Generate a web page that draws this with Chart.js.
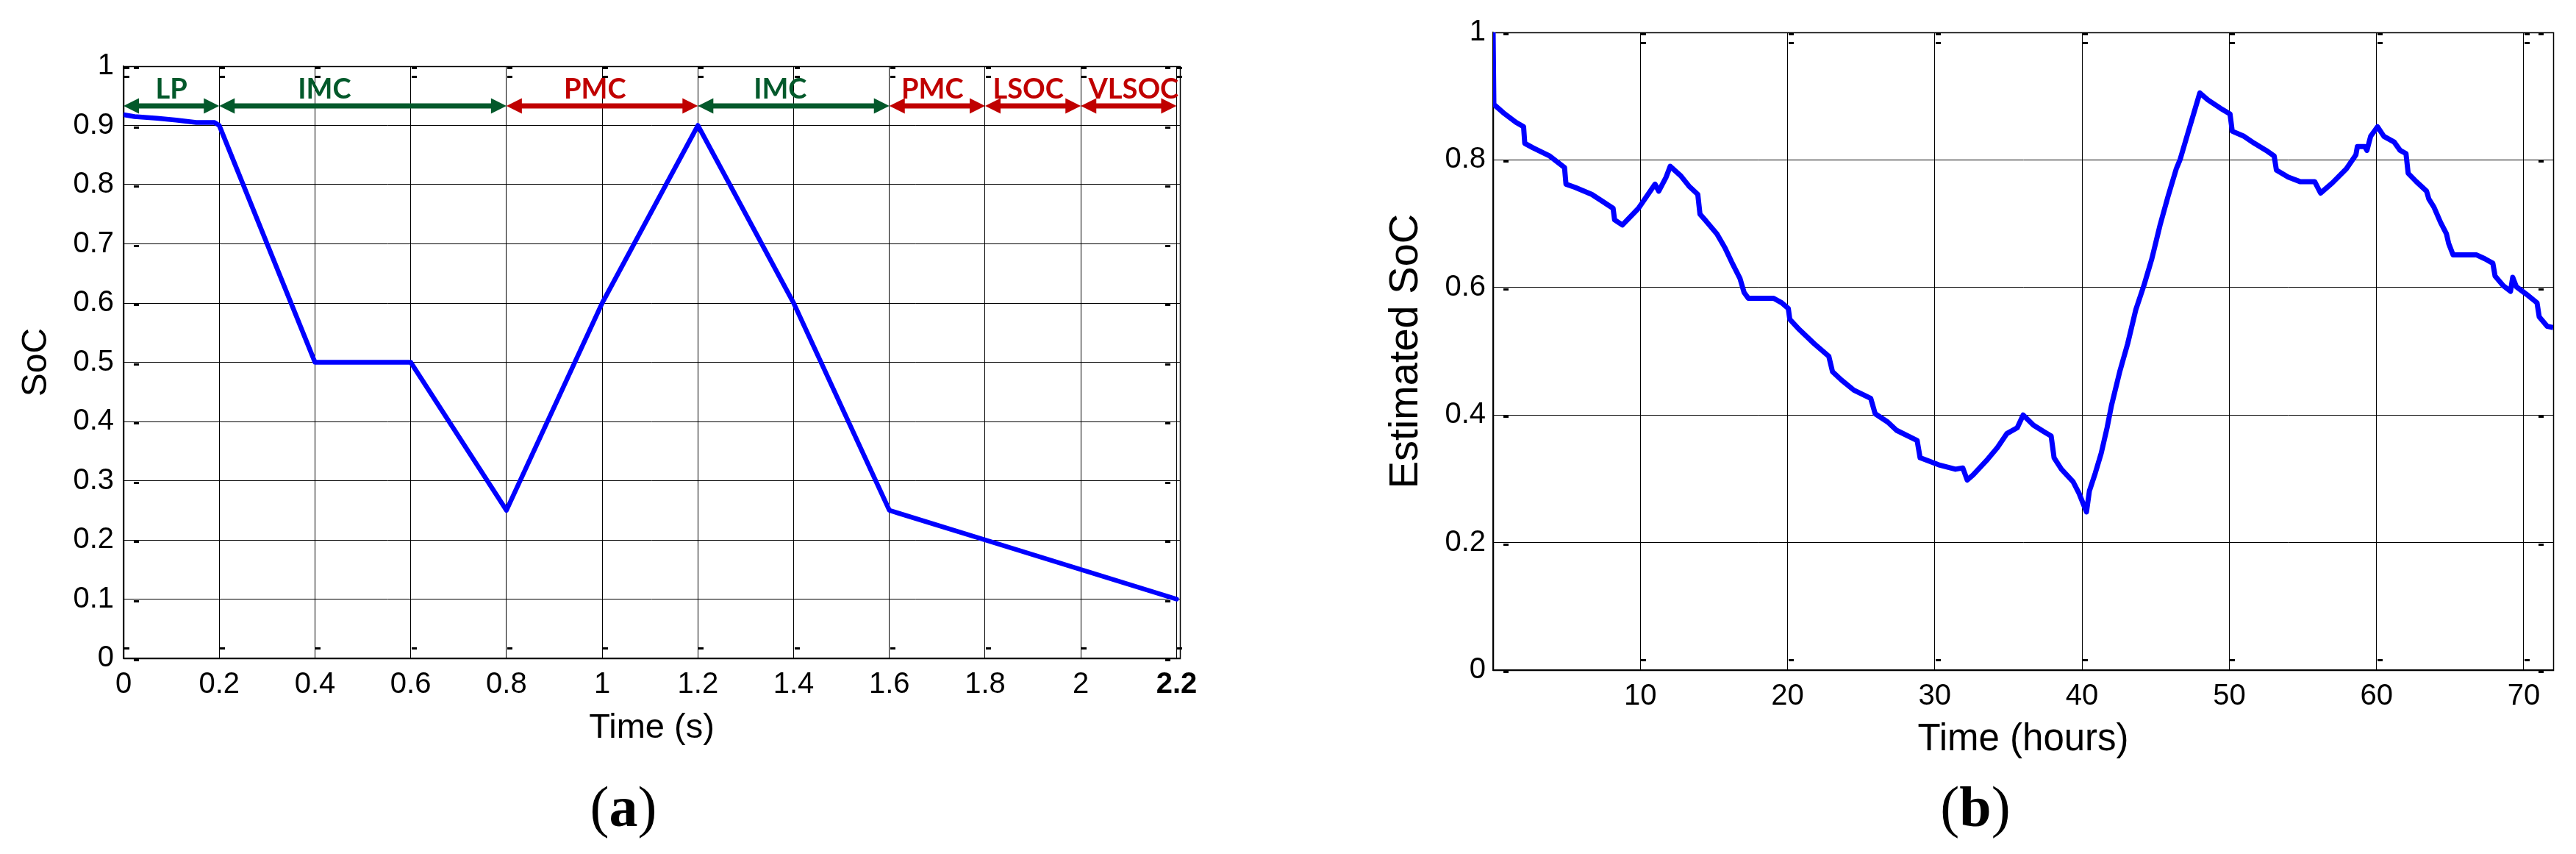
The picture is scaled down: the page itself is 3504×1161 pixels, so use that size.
<!DOCTYPE html>
<html><head><meta charset="utf-8">
<script src="https://cdn.jsdelivr.net/npm/chart.js@4.4.1/dist/chart.umd.min.js"></script>
<style>
html,body{margin:0;padding:0;background:#fff;width:3504px;height:1161px;overflow:hidden}
#wa{position:absolute;left:0;top:0;width:1750px;height:1161px}
#wb{position:absolute;left:1750px;top:0;width:1754px;height:1161px}
canvas{display:block}
</style></head><body>
<div id="wa"><canvas id="ca" width="1750" height="1161" style="width:1750px;height:1161px"></canvas></div>
<div id="wb"><canvas id="cb" width="1754" height="1161" style="width:1754px;height:1161px"></canvas></div>
<script>
// ---------- Chart (a) data ----------
const timeA = [0, 0.023, 0.07, 0.11, 0.152, 0.19, 0.2, 0.4, 0.6, 0.8, 1.0, 1.2, 1.4, 1.6, 1.62, 1.8, 2.0, 2.2];
const socA  = [0.918, 0.915, 0.912, 0.909, 0.905, 0.905, 0.9, 0.5, 0.5, 0.25, 0.6, 0.9, 0.6, 0.25, 0.245, 0.2, 0.15, 0.1];
const xTicksA = [0, 0.2, 0.4, 0.6, 0.8, 1, 1.2, 1.4, 1.6, 1.8, 2, 2.2];
const xTickLabelsA = ['0','0.2','0.4','0.6','0.8','1','1.2','1.4','1.6','1.8','2','2.2'];
const yTicksA = [0, 0.1, 0.2, 0.3, 0.4, 0.5, 0.6, 0.7, 0.8, 0.9, 1];
const yTickLabelsA = ['0','0.1','0.2','0.3','0.4','0.5','0.6','0.7','0.8','0.9','1'];

// phase annotations of chart (a)
const phaseNames   = ['LP', 'IMC', 'PMC', 'IMC', 'PMC', 'LSOC', 'VLSOC'];
const phaseStart   = [0, 0.2, 0.8, 1.2, 1.6, 1.8, 2.0];
const phaseEnd     = [0.2, 0.8, 1.2, 1.6, 1.8, 2.0, 2.2];
const phaseGroup   = ['green', 'green', 'red', 'green', 'red', 'red', 'red'];
const phaseLabelAt = [0.1, 0.42, 0.985, 1.372, 1.69, 1.89, 2.11];
const phaseArrowSoC = 0.933;
const phaseLabelSoC = 0.945;

// ---------- Chart (b) data ----------
const hoursB = [0, 0.05, 0.69, 1.55, 2.07, 2.15, 2.7, 3.85, 4.85, 4.95, 5.57, 6.7, 7.43, 8.15, 8.25, 8.78, 9.87, 11.0, 11.25, 11.75, 12.03, 12.75, 13.3, 13.9, 14.05, 14.47, 15.2, 15.75, 16.2, 16.77, 17.05, 17.34, 19.05, 19.6, 20.05, 20.15, 20.8, 21.8, 22.8, 23.05, 23.65, 24.5, 25.65, 25.95, 26.8, 27.4, 28.8, 29.0, 30.25, 31.4, 31.9, 32.2, 32.6, 33.6, 34.25, 34.9, 35.6, 36.0, 36.7, 37.4, 37.9, 38.1, 38.6, 39.4, 39.8, 40.3, 40.5, 40.9, 41.3, 41.7, 42.0, 42.56, 43.1, 43.65, 44.2, 44.74, 45.3, 45.83, 46.4, 46.65, 47.2, 47.6, 48.0, 48.55, 49.4, 50.05, 50.2, 51.0, 51.7, 52.5, 53.05, 53.2, 54.0, 54.8, 55.8, 56.2, 57.0, 57.95, 58.6, 58.7, 59.2, 59.35, 59.6, 60.07, 60.5, 61.2, 61.6, 62.0, 62.15, 62.7, 63.4, 63.55, 63.9, 64.35, 64.75, 64.9, 65.2, 66.8, 67.35, 67.9, 68.05, 68.6, 69.1, 69.25, 69.5, 70.2, 70.9, 71.05, 71.6, 72.0];
const socB   = [1.0, 0.887, 0.874, 0.859, 0.852, 0.826, 0.819, 0.806, 0.788, 0.762, 0.757, 0.746, 0.735, 0.724, 0.706, 0.698, 0.724, 0.762, 0.751, 0.773, 0.790, 0.775, 0.759, 0.746, 0.715, 0.704, 0.684, 0.662, 0.640, 0.614, 0.592, 0.583, 0.583, 0.576, 0.567, 0.550, 0.534, 0.512, 0.492, 0.468, 0.455, 0.439, 0.426, 0.402, 0.389, 0.376, 0.360, 0.333, 0.322, 0.315, 0.317, 0.298, 0.306, 0.331, 0.349, 0.371, 0.380, 0.400, 0.384, 0.374, 0.367, 0.333, 0.315, 0.295, 0.277, 0.248, 0.281, 0.309, 0.340, 0.380, 0.415, 0.468, 0.512, 0.565, 0.603, 0.645, 0.698, 0.742, 0.786, 0.800, 0.843, 0.874, 0.905, 0.894, 0.881, 0.872, 0.845, 0.837, 0.826, 0.815, 0.806, 0.784, 0.773, 0.766, 0.766, 0.748, 0.764, 0.786, 0.808, 0.821, 0.821, 0.815, 0.837, 0.852, 0.837, 0.828, 0.815, 0.810, 0.779, 0.766, 0.751, 0.739, 0.726, 0.702, 0.684, 0.669, 0.651, 0.651, 0.645, 0.638, 0.618, 0.603, 0.594, 0.616, 0.601, 0.589, 0.576, 0.554, 0.539, 0.537];
const xTicksB = [10, 20, 30, 40, 50, 60, 70];
const xTickLabelsB = ['10','20','30','40','50','60','70'];
const yTicksB = [0, 0.2, 0.4, 0.6, 0.8, 1];
const yTickLabelsB = ['0','0.2','0.4','0.6','0.8','1'];

// ---------- styling ----------
const SANS = "'Liberation Sans', Arial, Helvetica, sans-serif";
const SERIF = "'Liberation Serif', 'Times New Roman', serif";
const PHASE_COLORS = {green: '#03592B', red: '#C00000'};

Chart.defaults.font.family = SANS;
Chart.defaults.color = '#000';

const frameMarks = {
  id: 'frameMarks',
  beforeDatasetsDraw(chart) {
    const {ctx, chartArea: a, scales: {x, y}} = chart;
    ctx.save();
    ctx.fillStyle = '#000';
    x.ticks.forEach(t => {
      const px = Math.round(x.getPixelForValue(t.value));
      ctx.fillRect(px + 1, a.top + 1, 7, 3);
      ctx.fillRect(px + 1, a.top + 13, 7, 3);
      ctx.fillRect(px + 1, a.bottom - 15, 7, 3);
    });
    y.ticks.forEach(t => {
      const py = Math.round(y.getPixelForValue(t.value));
      ctx.fillRect(a.left + 14, py + 1, 7, 3);
      ctx.fillRect(a.right - 20, py + 1, 7, 3);
    });
    ctx.strokeStyle = '#000';
    ctx.lineWidth = 1.5;
    ctx.strokeRect(Math.round(a.left) + 0.5, Math.round(a.top) + 0.5, Math.round(a.right - a.left), Math.round(a.bottom - a.top));
    ctx.restore();
  }
};

const phasePlugin = {
  id: 'phases',
  afterDatasetsDraw(chart, args, opts) {
    if (!opts || !opts.enabled) return;
    const {ctx, scales: {x, y}} = chart;
    const ay = y.getPixelForValue(phaseArrowSoC);
    const ly = y.getPixelForValue(phaseLabelSoC);
    const head = 21, half = 10.5;
    ctx.save();
    phaseNames.forEach((name, i) => {
      const col = PHASE_COLORS[phaseGroup[i]];
      const x0 = x.getPixelForValue(phaseStart[i]);
      const x1 = x.getPixelForValue(phaseEnd[i]);
      ctx.fillStyle = col;
      ctx.strokeStyle = col;
      ctx.lineWidth = 7;
      ctx.beginPath();
      ctx.moveTo(x0 + head - 2, ay);
      ctx.lineTo(x1 - head + 2, ay);
      ctx.stroke();
      ctx.beginPath();
      ctx.moveTo(x0, ay); ctx.lineTo(x0 + head, ay - half); ctx.lineTo(x0 + head, ay + half); ctx.closePath();
      ctx.fill();
      ctx.beginPath();
      ctx.moveTo(x1, ay); ctx.lineTo(x1 - head, ay - half); ctx.lineTo(x1 - head, ay + half); ctx.closePath();
      ctx.fill();
      ctx.font = "bold 38px Lato, 'Liberation Sans Narrow', sans-serif";
      ctx.textAlign = 'center';
      ctx.textBaseline = 'alphabetic';
      ctx.fillText(name, x.getPixelForValue(phaseLabelAt[i]), ly);
    });
    ctx.restore();
  }
};

const captionPlugin = {
  id: 'caption',
  afterDraw(chart, args, opts) {
    if (!opts || !opts.letter) return;
    const ctx = chart.ctx;
    ctx.save();
    ctx.fillStyle = '#000';
    ctx.textBaseline = 'alphabetic';
    ctx.textAlign = 'left';
    const reg = '78px ' + SERIF, bold = 'bold 78px ' + SERIF;
    ctx.font = reg; const wp = ctx.measureText('(').width; const wq = ctx.measureText(')').width;
    ctx.font = bold; const wl = ctx.measureText(opts.letter).width;
    let sx = opts.cx - (wp + wl + wq) / 2;
    ctx.font = reg; ctx.fillText('(', sx, opts.baseline); sx += wp;
    ctx.font = bold; ctx.fillText(opts.letter, sx, opts.baseline); sx += wl;
    ctx.font = reg; ctx.fillText(')', sx, opts.baseline);
    ctx.restore();
  }
};

function fixedTicks(values) {
  return scale => { scale.ticks = values.map(v => ({value: v})); };
}
function labelFrom(values, labels) {
  return v => { const i = values.indexOf(v); return i >= 0 ? labels[i] : ''; };
}

// ---------- Chart (a) ----------
new Chart(document.getElementById('ca'), {
  type: 'line',
  data: {
    datasets: [{
      data: timeA.map((t, i) => ({x: t, y: socA[i]})),
      borderColor: '#0000FF',
      borderWidth: 6.5,
      pointRadius: 0,
      tension: 0,
      borderJoinStyle: 'round',
      borderCapStyle: 'round'
    }]
  },
  options: {
    responsive: false,
    animation: false,
    devicePixelRatio: 1,
    layout: {padding: {top: 90, right: 145, left: 0, bottom: 0}},
    plugins: {
      legend: {display: false},
      tooltip: {enabled: false},
      phases: {enabled: true},
      caption: {letter: 'a', cx: 848, baseline: 1123}
    },
    scales: {
      x: {
        type: 'linear', min: 0, max: 2.207,
        afterBuildTicks: fixedTicks(xTicksA),
        afterFit: s => { s.height = 266; },
        grid: {color: '#000', lineWidth: 1, drawTicks: false},
        border: {display: true, color: '#000', width: 1.5},
        ticks: {
          autoSkip: false, maxRotation: 0, padding: 12, color: '#000',
          callback: labelFrom(xTicksA, xTickLabelsA),
          font: c => ({family: SANS, size: 40, weight: (c.tick && c.tick.value === 2.2) ? 'bold' : 'normal'})
        },
        title: {display: true, text: 'Time (s)', color: '#000', font: {family: SANS, size: 47}, padding: {top: 0, bottom: 143}}
      },
      y: {
        type: 'linear', min: 0, max: 1,
        afterBuildTicks: fixedTicks(yTicksA),
        afterFit: s => { s.width = 168; },
        grid: {color: '#000', lineWidth: 1, drawTicks: false},
        border: {display: true, color: '#000', width: 1.5},
        ticks: {autoSkip: false, padding: 13, color: '#000', font: {family: SANS, size: 40},
          callback: labelFrom(yTicksA, yTickLabelsA)},
        title: {display: true, text: 'SoC', color: '#000', font: {family: SANS, size: 48}, padding: {top: 21, bottom: 0}}
      }
    }
  },
  plugins: [frameMarks, phasePlugin, captionPlugin]
});

// ---------- Chart (b) ----------
new Chart(document.getElementById('cb'), {
  type: 'line',
  data: {
    datasets: [{
      data: hoursB.map((h, i) => ({x: h, y: socB[i]})),
      borderColor: '#0000FF',
      borderWidth: 7,
      pointRadius: 0,
      tension: 0,
      borderJoinStyle: 'round',
      borderCapStyle: 'butt'
    }]
  },
  options: {
    responsive: false,
    animation: false,
    devicePixelRatio: 1,
    layout: {padding: {top: 44, right: 31, left: 0, bottom: 0}},
    plugins: {
      legend: {display: false},
      tooltip: {enabled: false},
      caption: {letter: 'b', cx: 937, baseline: 1123}
    },
    scales: {
      x: {
        type: 'linear', min: 0, max: 72,
        afterBuildTicks: fixedTicks(xTicksB),
        afterFit: s => { s.height = 250; },
        grid: {color: '#000', lineWidth: 1, drawTicks: false},
        border: {display: true, color: '#000', width: 1.5},
        ticks: {autoSkip: false, maxRotation: 0, padding: 12, color: '#000', font: {family: SANS, size: 40},
          callback: labelFrom(xTicksB, xTickLabelsB)},
        title: {display: true, text: 'Time (hours)', color: '#000', font: {family: SANS, size: 51}, padding: {top: 0, bottom: 124}}
      },
      y: {
        type: 'linear', min: 0, max: 1,
        afterBuildTicks: fixedTicks(yTicksB),
        afterFit: s => { s.width = 281; },
        grid: {color: '#000', lineWidth: 1, drawTicks: false},
        border: {display: true, color: '#000', width: 1.5},
        ticks: {autoSkip: false, padding: 10, color: '#000', font: {family: SANS, size: 40},
          callback: labelFrom(yTicksB, yTickLabelsB)},
        title: {display: true, text: 'Estimated SoC', color: '#000', font: {family: SANS, size: 56}, padding: {top: 129, bottom: 0}}
      }
    }
  },
  plugins: [frameMarks, captionPlugin]
});
</script>
</body></html>
